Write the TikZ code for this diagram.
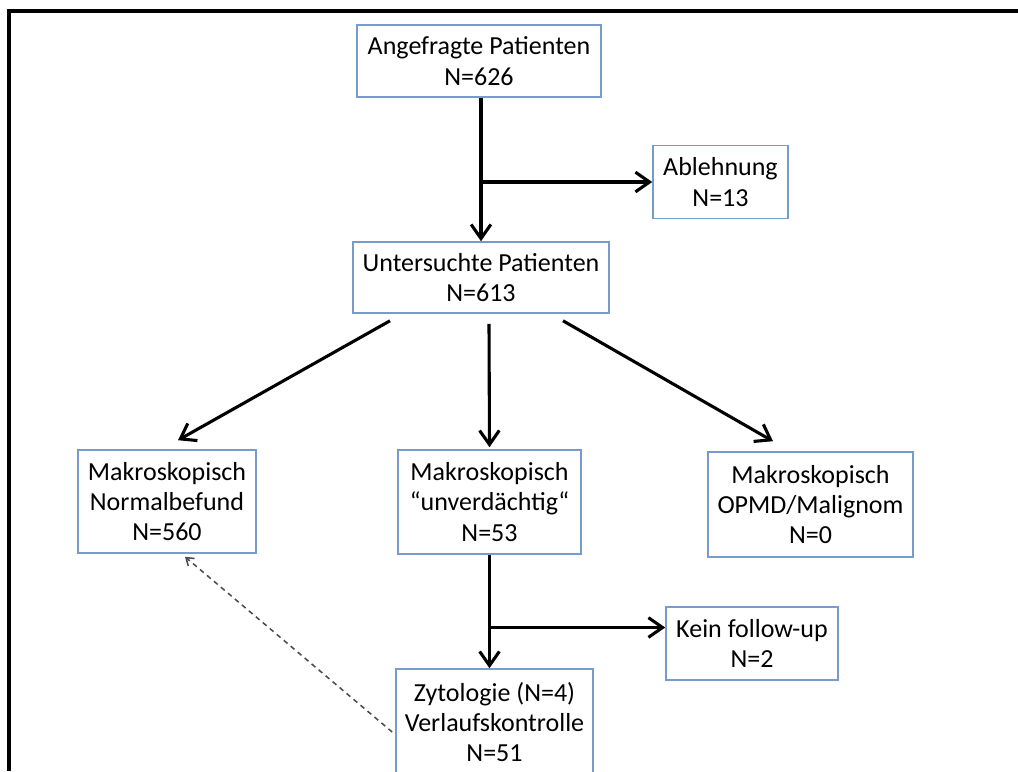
\documentclass[tikz,border=0pt]{standalone}
\usepackage{fontspec}
\setmainfont{Carlito}
\usetikzlibrary{arrows.meta,calc}
\definecolor{kastenblau}{RGB}{120,155,205}
\tikzset{
  kasten/.style={draw=kastenblau, line width=1.1pt, align=center, inner sep=2pt,
    font=\fontsize{18.5}{21.5}\selectfont},
  pfeil/.style={-{Straight Barb[length=10pt,width=14pt]}, line width=2.2pt},
  rueck/.style={-{Straight Barb[length=5pt,width=7pt]}, dash pattern=on 3.5pt off 3pt, line width=1.1pt, draw=black!70}
}
\begin{document}
\begin{tikzpicture}[x=0.025cm,y=-0.025cm]
        \useasboundingbox (0,0) rectangle (1018,771);
        % Rahmen
        \draw[line width=2.2pt] (1018,11) -- (9,11) -- (9,771);
        % Kaesten
        \node[kasten, minimum width=6.1cm, minimum height=1.8cm] (ang) at (479,61) {Angefragte Patienten\\N=626};
        \node[kasten, minimum width=3.375cm, minimum height=1.825cm] (abl) at (720.5,182) {Ablehnung\\N=13};
        \node[kasten, minimum width=6.4cm, minimum height=1.775cm] (unt) at (481,277.5) {Untersuchte Patienten\\N=613};
        \node[kasten, minimum width=4.45cm, minimum height=2.575cm] (norm) at (167,501.5) {Makroskopisch\\Normalbefund\\N=560};
        \node[kasten, minimum width=4.575cm, minimum height=2.6cm] (unv) at (489.5,502) {Makroskopisch\\“unverdächtig“\\N=53};
        \node[kasten, minimum width=5.125cm, minimum height=2.625cm] (mal) at (810.5,504.5) {Makroskopisch\\OPMD/Malignom\\N=0};
        \node[kasten, minimum width=4.3cm, minimum height=1.825cm] (kein) at (752,643.5) {Kein follow-up\\N=2};
        \node[kasten, minimum width=4.925cm, minimum height=2.65cm] (zyt) at (494.5,722) {Zytologie (N=4)\\Verlaufskontrolle\\N=51};
        % Pfeile
        \draw[pfeil] (ang.south -| unt.north) -- (unt.north);
        \draw[pfeil] (unt.north |- abl.west) -- (abl.west);
        \draw[pfeil] ($(unt.south)+(-91,7)$) -- ($(norm.north)+(11,-9)$);
        \draw[pfeil] ($(unt.south)+(8,10)$) -- ($(unv.north)+(0,-2)$);
        \draw[pfeil] ($(unt.south)+(82,7)$) -- ($(mal.north)+(-37.5,-10)$);
        \draw[pfeil] (unv.south) -- (unv.south |- zyt.north);
        \draw[pfeil] ($(unv.south |- kein.west)+(0,-16)$) -- ($(kein.west)+(0,-16)$);
        % Rueckfuehrung
        \draw[rueck] ($(zyt.west)+(-3,10)$) -- ($(norm.south)+(18,3)$);
\end{tikzpicture}
\end{document}
